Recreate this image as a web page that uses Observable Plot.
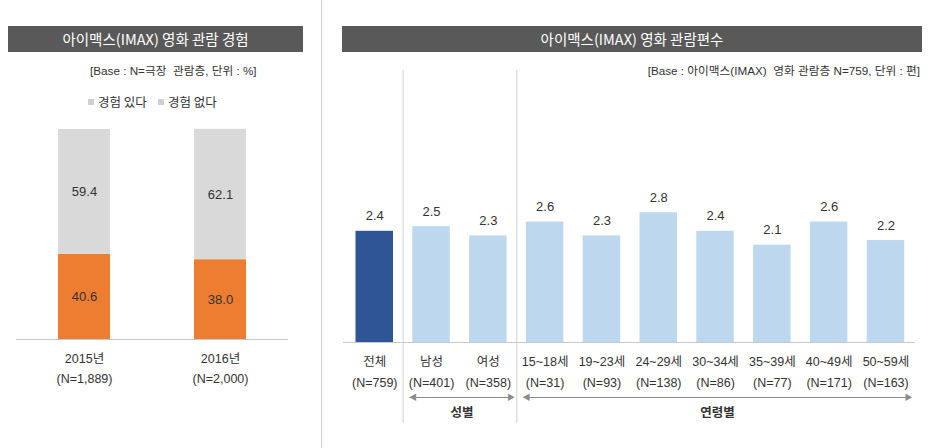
<!DOCTYPE html>
<html>
<head>
<meta charset="utf-8">
<script src="https://cdn.jsdelivr.net/npm/d3@7"></script>
<script src="https://cdn.jsdelivr.net/npm/@observablehq/plot@0.6"></script>
<style>
  html, body { margin: 0; padding: 0; background: #fff; }
  #root { position: relative; width: 929px; height: 448px; overflow: hidden; background: #fff;
    font-family: "Liberation Sans", "Noto Sans CJK KR", sans-serif; color: #333; }
  .abs { position: absolute; }
  .titlebar { background: #595959; color: #fff; font-size: 14.5px; text-align: center; line-height: 26px; height: 26px;
    font-family: "Noto Sans CJK KR", sans-serif; }
  .base { font-size: 11.7px; color: #333; white-space: nowrap; }
  .legend { font-size: 12.5px; color: #333; white-space: nowrap; font-family: "Noto Sans CJK KR", sans-serif; }
  .legend .sw { display: inline-block; width: 6px; height: 6px; background: #cfcfcf; margin-right: 4px; vertical-align: 2px; }
  .vsep { background: #d0d0d0; width: 1px; }
</style>
</head>
<body>
<div id="root"></div>
<script>
// ---- Left chart data: IMAX viewing experience (%)
const years = ["2015년", "2016년"];
const yearN = ["(N=1,889)", "(N=2,000)"];
const experienced = [40.6, 38.0];     // 경험 있다
const notExperienced = [59.4, 62.1];  // 경험 없다
const seriesNames = ["경험 있다", "경험 없다"];
const seriesColors = ["#ED7D31", "#D9D9D9"];

// ---- Right chart data: IMAX films watched (편)
const categories = ["전체", "남성", "여성", "15~18세", "19~23세", "24~29세", "30~34세", "35~39세", "40~49세", "50~59세"];
const categoryN = ["(N=759)", "(N=401)", "(N=358)", "(N=31)", "(N=93)", "(N=138)", "(N=86)", "(N=77)", "(N=171)", "(N=163)"];
const counts = [2.4, 2.5, 2.3, 2.6, 2.3, 2.8, 2.4, 2.1, 2.6, 2.2];
const groupLabels = ["성별", "연령별"];
const groupStart = [1, 3];
const groupEnd = [2, 9];
const separators = [0.5, 2.5];

const root = document.getElementById("root");
function addDiv(cls, style, html) {
  const d = document.createElement("div");
  d.className = "abs " + cls;
  Object.assign(d.style, style);
  if (html != null) d.innerHTML = html;
  root.appendChild(d);
  return d;
}

// Decorations: title bars, base notes, separator
addDiv("titlebar", {left: "8px", top: "26px", width: "295px"}, "아이맥스(IMAX) 영화 관람 경험");
addDiv("titlebar", {left: "342px", top: "26px", width: "580px"}, "아이맥스(IMAX) 영화 관람편수");
addDiv("base", {left: "90px", top: "61px"}, "[Base : N=극장&nbsp;&nbsp;관람층, 단위 : %]");
addDiv("base", {right: "9px", top: "61px"}, "[Base : 아이맥스(IMAX)&nbsp;&nbsp;영화 관람층 N=759, 단위 : 편]");
addDiv("vsep", {left: "321px", top: "0px", height: "448px"});
addDiv("legend", {left: "88px", top: "92px"},
  seriesNames.map(n => `<span class="sw"></span>${n}`).join("&nbsp;&nbsp;&nbsp;&nbsp;"));

const fmt = d3.format(".1f");
const fontFam = "Liberation Sans, Noto Sans CJK KR, sans-serif";

// ---- Left chart
const leftData = [];
years.forEach((y, i) => {
  leftData.push({year: y, type: seriesNames[0], value: experienced[i]});
  leftData.push({year: y, type: seriesNames[1], value: notExperienced[i]});
});
const leftPlot = Plot.plot({
  width: 320, height: 290,
  marginTop: 14, marginBottom: 66, marginLeft: 16, marginRight: 32,
  style: {fontFamily: fontFam, background: "transparent", overflow: "visible"},
  x: {domain: years, paddingInner: 0.618, paddingOuter: 0.309, axis: null},
  y: {domain: [0, 100], axis: null},
  color: {domain: seriesNames, range: seriesColors},
  marks: [
    Plot.barY(leftData, Plot.stackY({x: "year", y: "value", fill: "type"})),
    Plot.text(leftData, Plot.stackY({x: "year", y: "value", text: d => fmt(d.value), fill: "#333", fontSize: 13})),
    Plot.ruleY([0], {stroke: "#c8c8c8"}),
    Plot.text(years.map((y, i) => ({year: y, label: y + "\n" + yearN[i]})),
      {x: "year", y: 0, text: "label", lineAnchor: "top", dy: 9, lineHeight: 1.6, fontSize: 12.5, fill: "#333"})
  ]
});
leftPlot.style.position = "absolute";
leftPlot.style.left = "0px";
leftPlot.style.top = "115px";
root.appendChild(leftPlot);

// ---- Right chart
const rightData = categories.map((c, i) => ({i, cat: c, n: categoryN[i], value: counts[i]}));
const groups = groupLabels.map((g, k) => ({label: g, start: groupStart[k], end: groupEnd[k]}));
const arrowY = 55;
const rightPlot = Plot.plot({
  width: 599, height: 388,
  marginTop: 143, marginBottom: 106, marginLeft: 13, marginRight: 14,
  style: {fontFamily: fontFam, background: "transparent", overflow: "visible"},
  x: {domain: [-0.55, 9.52], axis: null},
  y: {domain: [0, 3], axis: null},
  marks: [
    Plot.ruleX(separators, {x: d => d, stroke: "#d0d0d0", insetTop: -133, insetBottom: -81}),
    Plot.rectY(rightData, {x1: d => d.i - 0.33, x2: d => d.i + 0.33, y1: 0, y2: "value",
      fill: d => d.i === 0 ? "#2F5597" : "#BDD7EE"}),
    Plot.ruleY([0], {stroke: "#c8c8c8"}),
    Plot.text(rightData, {x: "i", y: "value", text: d => fmt(d.value), dy: -15, fontSize: 13, fill: "#333"}),
    Plot.text(rightData, {x: "i", y: 0, text: d => d.cat + "\n" + d.n, lineAnchor: "top", dy: 9, lineHeight: 1.65, fontSize: 12.5, fill: "#333"}),
    // group arrows
    Plot.ruleY(groups, {x1: d => d.start - 0.38, x2: d => d.end + 0.45, y: 0, dy: arrowY, stroke: "#8c8c8c", strokeWidth: 1.2}),
    Plot.text(groups, {x: d => d.start - 0.38, y: 0, dy: arrowY, text: () => "◀", fill: "#8c8c8c", fontSize: 8, textAnchor: "start", dx: -1}),
    Plot.text(groups, {x: d => d.end + 0.45, y: 0, dy: arrowY, text: () => "▶", fill: "#8c8c8c", fontSize: 8, textAnchor: "end", dx: 1}),
    Plot.text(groups, {x: d => (d.start - 0.38 + d.end + 0.45) / 2, y: 0, dy: arrowY + 15, text: "label", fontSize: 12.5, fill: "#333", fontWeight: 600})
  ]
});
rightPlot.style.position = "absolute";
rightPlot.style.left = "330px";
rightPlot.style.top = "60px";
root.appendChild(rightPlot);
</script>
</body>
</html>
